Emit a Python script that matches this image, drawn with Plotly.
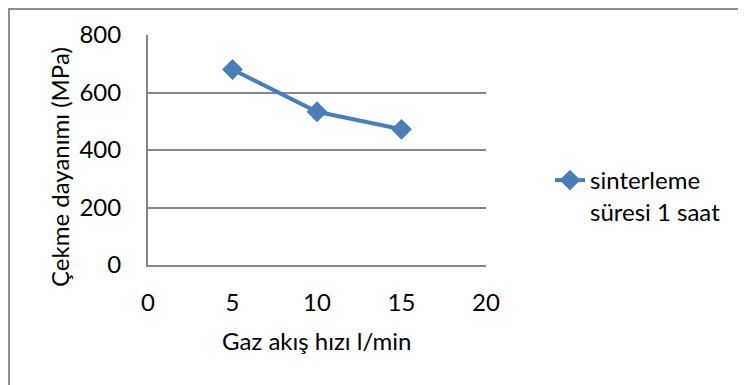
import plotly.graph_objects as go

gas_flow = [5, 10, 15]
tensile_strength = [680, 533, 472]
series_name = "sinterleme<br>süresi 1 saat"
x_title = "Gaz akış hızı l/min"
y_title = "Çekme dayanımı (MPa)"

OFF = 8  # page body margin
W, H = 746 - OFF, 385 - OFF
L, R, T, B = 148 - OFF, 486 - OFF, 35 - OFF, 265 - OFF
FONT = "Lato, 'Open Sans', sans-serif"
FS = 24
GRAY = "#868686"
BLUE = "#4a7ebb"

def px_x(p):
    return (p - OFF - L) / (R - L)

def px_y(p):
    return (B - (p - OFF)) / (B - T)

fig = go.Figure()
fig.add_trace(go.Scatter(
    x=gas_flow, y=tensile_strength, mode="lines+markers", name=series_name,
    line=dict(color=BLUE, width=4),
    marker=dict(symbol="diamond", size=16, color=BLUE),
))

fig.update_layout(
    width=W, height=H,
    margin=dict(l=L, r=W - R, t=T, b=H - B),
    paper_bgcolor="white", plot_bgcolor="white",
    font=dict(family=FONT, size=FS, color="#000000"),
    showlegend=True,
    legend=dict(x=px_x(550), y=px_y(158), xanchor="left", yanchor="top",
                valign="top", font=dict(size=FS), bgcolor="rgba(0,0,0,0)",
                borderwidth=0),
    xaxis=dict(range=[0, 20], tickvals=[0, 5, 10, 15, 20], showgrid=False,
               showline=True, linecolor=GRAY, linewidth=2, zeroline=False,
               ticks="", ticklabelstandoff=15),
    yaxis=dict(range=[0, 800], tickvals=[0, 200, 400, 600, 800], showgrid=True,
               gridcolor=GRAY, gridwidth=1.5, showline=True, linecolor=GRAY,
               linewidth=2, zeroline=False, ticks="", ticklabelstandoff=20),
    annotations=[
        dict(text=x_title, xref="paper", yref="paper", x=px_x(316), y=px_y(340),
             xanchor="center", yanchor="middle", showarrow=False,
             font=dict(size=FS)),
        dict(text=y_title, xref="paper", yref="paper", x=px_x(59), y=px_y(167),
             xanchor="center", yanchor="middle", showarrow=False, textangle=-90,
             font=dict(size=FS)),
    ],
    shapes=[dict(type="rect", xref="paper", yref="paper",
                 x0=px_x(9), y0=px_y(420), x1=px_x(800), y1=px_y(9),
                 line=dict(color="#909090", width=2), fillcolor="rgba(0,0,0,0)",
                 layer="below")],
)

fig.write_html("out.html")
